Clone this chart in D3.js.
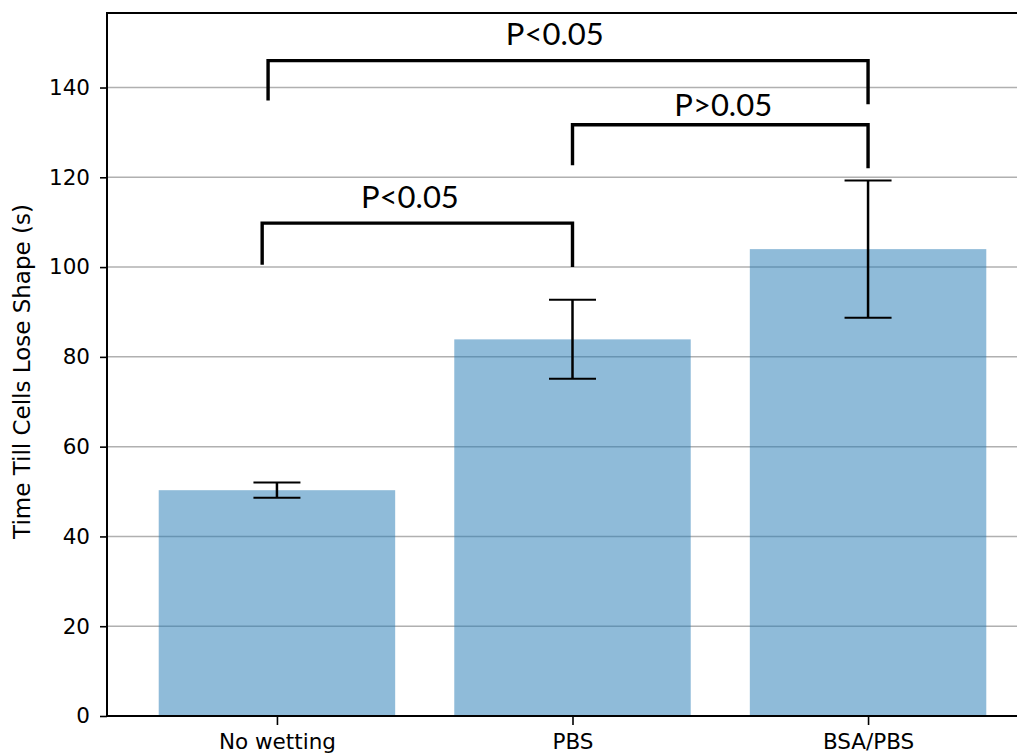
<!DOCTYPE html>
<html>
<head>
<meta charset="utf-8">
<script src="https://cdn.jsdelivr.net/npm/d3@7/dist/d3.min.js"></script>
<style>
  html, body { margin: 0; padding: 0; background: #fff; overflow: hidden; }
  svg { display: block; }
</style>
</head>
<body>
<svg id="chart" width="1017" height="756"></svg>
<script>
// ---- data ----
const categories = ["No wetting", "PBS", "BSA/PBS"];
const means = [50.3, 83.9, 104.0];
const errors = [1.7, 8.8, 15.3];
const yTicks = [0, 20, 40, 60, 80, 100, 120, 140];
const yLabel = "Time Till Cells Lose Shape (s)";

// significance brackets (data coordinates: category index, value)
const bracketX1 = [-0.05, 1.0, -0.03];
const bracketX2 = [1.0, 2.0, 2.0];
const bracketTop = [109.8, 131.7, 146.0];
const bracketLeftBottom = [100.5, 122.7, 137.1];
const bracketRightBottom = [100.0, 122.0, 136.3];
const bracketLabels = ["P<0.05", "P>0.05", "P<0.05"];
const labelX = [0.45, 1.51, 0.94];
const labelY = [113.1, 133.7, 149.5];

// ---- layout ----
const svg = d3.select("#chart");
const mLeft = 107, mRight = 1038, mTop = 13, mBottom = 716;

const x = d3.scaleLinear().domain([-0.575, 2.575]).range([mLeft, mRight]);
const y = d3.scaleLinear().domain([0, 156.6]).range([mBottom, mTop]);
const barWidth = 0.8;

// gridlines
svg.append("g").selectAll("line").data(yTicks).join("line")
  .attr("x1", mLeft).attr("x2", mRight)
  .attr("y1", d => y(d)).attr("y2", d => y(d))
  .attr("stroke", "#b0b0b0").attr("stroke-width", 1.5);

// bars
svg.append("g").selectAll("rect").data(means).join("rect")
  .attr("x", (d, i) => x(i - barWidth / 2))
  .attr("width", (d, i) => x(i + barWidth / 2) - x(i - barWidth / 2))
  .attr("y", d => y(d))
  .attr("height", d => y(0) - y(d))
  .attr("fill", "rgba(31,119,180,0.5)");

// error bars
const eg = svg.append("g").attr("stroke", "#000");
const capHalf = 23.5;
means.forEach((m, i) => {
  const cx = x(i);
  eg.append("line").attr("x1", cx).attr("x2", cx)
    .attr("y1", y(m - errors[i])).attr("y2", y(m + errors[i])).attr("stroke-width", 2.5);
  [m - errors[i], m + errors[i]].forEach(v => {
    eg.append("line").attr("x1", cx - capHalf).attr("x2", cx + capHalf)
      .attr("y1", y(v)).attr("y2", y(v)).attr("stroke-width", 2);
  });
});

// axes
const yAxis = d3.axisLeft(y).tickValues(yTicks).tickSize(7).tickPadding(10).tickFormat(d3.format("d"));
const yg = svg.append("g").attr("transform", `translate(${mLeft},0)`).call(yAxis);
const xAxis = d3.axisBottom(x).tickValues([0, 1, 2]).tickSize(9).tickPadding(8)
  .tickFormat(i => categories[i]);
const xg = svg.append("g").attr("transform", `translate(0,${mBottom})`).call(xAxis);

[yg, xg].forEach(g => {
  g.select(".domain").remove();
  g.selectAll(".tick line").attr("stroke", "#000").attr("stroke-width", 1.6);
  g.selectAll(".tick text").attr("fill", "#000")
    .style("font-family", "'DejaVu Sans', sans-serif").style("font-size", "21.5px");
});
xg.selectAll(".tick text").attr("dy", "0.75em");

// spines (left, top, bottom; right spine lies beyond the visible area)
const sg = svg.append("g").attr("stroke", "#000").attr("stroke-width", 2);
sg.append("line").attr("x1", mLeft).attr("x2", mLeft).attr("y1", mTop - 1).attr("y2", mBottom + 1);
sg.append("line").attr("x1", mLeft).attr("x2", mRight).attr("y1", mTop).attr("y2", mTop);
sg.append("line").attr("x1", mLeft).attr("x2", mRight).attr("y1", mBottom).attr("y2", mBottom);

// y label
svg.append("text")
  .attr("transform", `translate(30,${(mTop + mBottom) / 2 + 7}) rotate(-90)`)
  .attr("text-anchor", "middle")
  .style("font-family", "'DejaVu Sans', sans-serif").style("font-size", "23px")
  .attr("fill", "#000")
  .text(yLabel);

// significance brackets
const bg = svg.append("g");
bracketLabels.forEach((lab, i) => {
  const path = d3.path();
  path.moveTo(x(bracketX1[i]), y(bracketLeftBottom[i]));
  path.lineTo(x(bracketX1[i]), y(bracketTop[i]));
  path.lineTo(x(bracketX2[i]), y(bracketTop[i]));
  path.lineTo(x(bracketX2[i]), y(bracketRightBottom[i]));
  bg.append("path").attr("d", path.toString())
    .attr("fill", "none").attr("stroke", "#000").attr("stroke-width", 3.4)
    .attr("stroke-linejoin", "miter");
  bg.append("text")
    .attr("x", x(labelX[i])).attr("y", y(labelY[i]))
    .attr("text-anchor", "middle")
    .style("font-family", "Lato, 'Open Sans', sans-serif").style("font-size", "31px")
    .attr("fill", "#000")
    .text(lab);
});
</script>
</body>
</html>
